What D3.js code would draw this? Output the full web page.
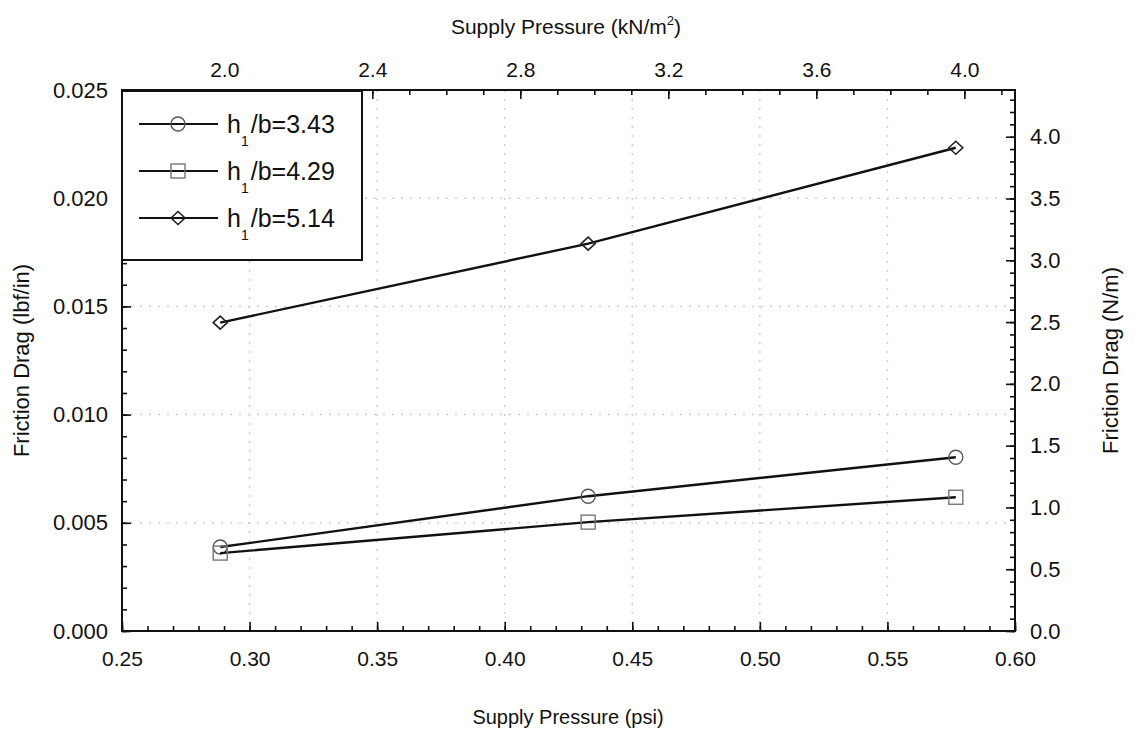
<!DOCTYPE html>
<html><head><meta charset="utf-8">
<script src="https://cdn.jsdelivr.net/npm/d3@7"></script>
<style>
body{margin:0;background:#fff;}
text{font-family:"Liberation Sans",Arial,sans-serif;fill:#111;}
</style></head>
<body><svg id="c" width="1134" height="731"></svg>
<script>
// ---- data ----
const pressurePsi = [0.2885, 0.4327, 0.5768];
const seriesNames = ["3.43", "4.29", "5.14"];
const seriesMarkers = ["circle", "square", "diamond"];
const drag343 = [0.00388, 0.00623, 0.00803];
const drag429 = [0.00360, 0.00503, 0.00618];
const drag514 = [0.01425, 0.01790, 0.02233];
const bottomTicks = [0.25, 0.30, 0.35, 0.40, 0.45, 0.50, 0.55, 0.60];
const leftTicks = [0.000, 0.005, 0.010, 0.015, 0.020, 0.025];
const topTicks = [2.0, 2.4, 2.8, 3.2, 3.6, 4.0];
const rightTicks = [0.0, 0.5, 1.0, 1.5, 2.0, 2.5, 3.0, 3.5, 4.0];
const gridX = [0.30, 0.35, 0.40, 0.45, 0.50, 0.55];
const gridY = [0.005, 0.010, 0.015, 0.020];
const PSI_TO_KNM2 = 6.894757;
const LBFIN_TO_NM = 175.1268;

const series = [drag343, drag429, drag514].map((v, i) => ({
  name: seriesNames[i], marker: seriesMarkers[i],
  pts: v.map((y, j) => ({x: pressurePsi[j], y}))
}));

const svg = d3.select("#c");
const L = 122, R = 1015, T = 90, B = 631;
const x = d3.scaleLinear().domain([0.25, 0.60]).range([L, R]);
const y = d3.scaleLinear().domain([0, 0.025]).range([B, T]);
const xTop = d3.scaleLinear().domain([0.25 * PSI_TO_KNM2, 0.60 * PSI_TO_KNM2]).range([L, R]);
const yRight = d3.scaleLinear().domain([0, 0.025 * LBFIN_TO_NM]).range([B, T]);

// grid
const g = svg.append("g").attr("stroke", "#cfcfcf").attr("stroke-width", 1.5).attr("stroke-dasharray", "2,7");
g.selectAll("line.gx").data(gridX).enter().append("line")
  .attr("x1", d => x(d)).attr("x2", d => x(d)).attr("y1", T).attr("y2", B);
g.selectAll("line.gy").data(gridY).enter().append("line")
  .attr("y1", d => y(d)).attr("y2", d => y(d)).attr("x1", L).attr("x2", R);

function range(a, b, s) { const r = []; for (let v = a; v <= b + 1e-9; v += s) r.push(+v.toFixed(6)); return r; }

function styleAxis(size) {
  return sel => {
    sel.select(".domain").remove();
    sel.selectAll(".tick line").attr("stroke", "#111").attr("stroke-width", 1.6);
    sel.selectAll("text").style("font-size", size + "px").attr("fill", "#111");
  };
}

// bottom
svg.append("g").attr("transform", `translate(0,${B})`)
  .call(d3.axisBottom(x).tickValues(range(0.25, 0.60, 0.01)).tickSize(-5).tickFormat(""))
  .call(styleAxis(21));
svg.append("g").attr("transform", `translate(0,${B})`)
  .call(d3.axisBottom(x).tickValues(bottomTicks).tickSize(-9).tickPadding(20).tickFormat(d3.format(".2f")))
  .call(styleAxis(21));
// left
svg.append("g").attr("transform", `translate(${L},0)`)
  .call(d3.axisLeft(y).tickValues(range(0, 0.025, 0.001)).tickSize(-5).tickFormat(""))
  .call(styleAxis(22));
svg.append("g").attr("transform", `translate(${L},0)`)
  .call(d3.axisLeft(y).tickValues(leftTicks).tickSize(-9).tickPadding(14).tickFormat(d3.format(".3f")))
  .call(styleAxis(22));
// top
svg.append("g").attr("transform", `translate(0,${T})`)
  .call(d3.axisTop(xTop).tickValues(range(1.8, 4.1, 0.1)).tickSize(-5).tickFormat(""))
  .call(styleAxis(21));
svg.append("g").attr("transform", `translate(0,${T})`)
  .call(d3.axisTop(xTop).tickValues(topTicks).tickSize(-9).tickPadding(13).tickFormat(d3.format(".1f")))
  .call(styleAxis(21));
// right
svg.append("g").attr("transform", `translate(${R},0)`)
  .call(d3.axisRight(yRight).tickValues(range(0, 4.3, 0.1)).tickSize(-5).tickFormat(""))
  .call(styleAxis(22));
svg.append("g").attr("transform", `translate(${R},0)`)
  .call(d3.axisRight(yRight).tickValues(rightTicks).tickSize(-9).tickPadding(15).tickFormat(d3.format(".1f")))
  .call(styleAxis(22));

// frame
svg.append("rect").attr("x", L).attr("y", T).attr("width", R - L).attr("height", B - T)
  .attr("fill", "none").attr("stroke", "#111").attr("stroke-width", 2);

// axis titles
svg.append("text").attr("x", 568).attr("y", 724).attr("text-anchor", "middle").style("font-size", "20px")
  .text("Supply Pressure (psi)");
const tt = svg.append("text").attr("x", 566).attr("y", 34).attr("text-anchor", "middle").style("font-size", "21px");
tt.append("tspan").text("Supply Pressure (kN/m");
tt.append("tspan").attr("dy", -9).style("font-size", "13px").text("2");
tt.append("tspan").attr("dy", 9).text(")");
svg.append("text").attr("transform", `translate(29,${(T + B) / 2}) rotate(-90)`).attr("text-anchor", "middle")
  .style("font-size", "22px").text("Friction Drag (lbf/in)");
svg.append("text").attr("transform", `translate(1118,${(T + B) / 2}) rotate(-90)`).attr("text-anchor", "middle")
  .style("font-size", "22px").text("Friction Drag (N/m)");

// markers
function drawMarker(sel, type, cx, cy) {
  if (type === "circle") {
    sel.append("circle").attr("cx", cx).attr("cy", cy).attr("r", 7)
      .attr("fill", "none").attr("stroke", "#555").attr("stroke-width", 1.4);
  } else if (type === "square") {
    sel.append("rect").attr("x", cx - 7).attr("y", cy - 7).attr("width", 14).attr("height", 14)
      .attr("fill", "none").attr("stroke", "#777").attr("stroke-width", 1.4);
  } else {
    sel.append("path").attr("d", `M${cx - 7},${cy} L${cx},${cy - 6.5} L${cx + 7},${cy} L${cx},${cy + 6.5} Z`)
      .attr("fill", "none").attr("stroke", "#222").attr("stroke-width", 1.6);
  }
}

const line = d3.line().x(d => x(d.x)).y(d => y(d.y));
series.forEach(s => {
  svg.append("path").datum(s.pts).attr("d", line).attr("fill", "none")
    .attr("stroke", "#111").attr("stroke-width", 2.4);
  const mg = svg.append("g");
  s.pts.forEach(p => drawMarker(mg, s.marker, x(p.x), y(p.y)));
});

// legend
const lg = svg.append("g");
lg.append("rect").attr("x", L).attr("y", T + 1).attr("width", 240).attr("height", 169)
  .attr("fill", "#fff").attr("stroke", "#111").attr("stroke-width", 2);
series.forEach((s, i) => {
  const cy = 124 + i * 47;
  lg.append("line").attr("x1", 139).attr("x2", 218).attr("y1", cy).attr("y2", cy)
    .attr("stroke", "#111").attr("stroke-width", 2);
  drawMarker(lg, s.marker, 178, cy);
  const t = lg.append("text").attr("x", 227).attr("y", cy + 9).style("font-size", "25px");
  t.append("tspan").text("h");
  t.append("tspan").attr("dy", 13).style("font-size", "14px").text("1");
  t.append("tspan").attr("dy", -13).attr("dx", 2).text("/b=" + s.name);
});
</script></body></html>
